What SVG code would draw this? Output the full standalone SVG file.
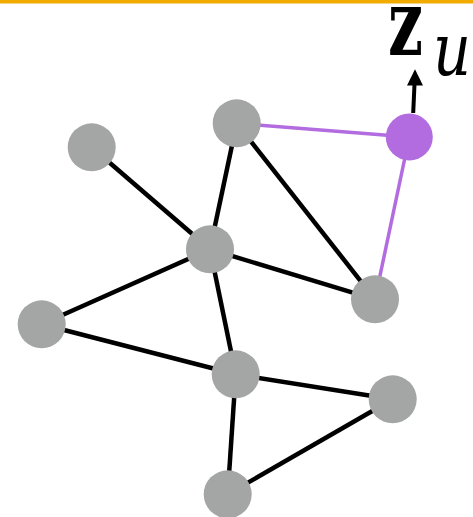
<svg xmlns="http://www.w3.org/2000/svg" width="473" height="517" viewBox="0 0 473 517">
<style>
.n{fill:#a3a6a5}
.p{fill:#b26ce0}
.e{stroke:#000;stroke-width:4.5;stroke-linecap:butt}
.pe{stroke:#b26ce0;stroke-width:3.5}
.lb{font-family:'DejaVu Serif',serif}
</style>
<rect width="473" height="517" fill="#fff"/>
<rect x="0" y="0" width="473" height="3.5" fill="#f0aa00"/>
<g id="edges">
<line class="e" x1="91.7" y1="147.3" x2="210" y2="249.3"/>
<line class="e" x1="236.7" y1="123.3" x2="210" y2="249.3"/>
<line class="e" x1="236.7" y1="123.3" x2="375" y2="299.3"/>
<line class="pe" x1="236.7" y1="123.3" x2="409.3" y2="137"/>
<line class="pe" x1="409.3" y1="137" x2="375" y2="299.3"/>
<line class="e" x1="210" y1="249.3" x2="375" y2="299.3"/>
<line class="e" x1="210" y1="249.3" x2="41.7" y2="324.3"/>
<line class="e" x1="210" y1="249.3" x2="235.7" y2="374.3"/>
<line class="e" x1="41.7" y1="324.3" x2="235.7" y2="374.3"/>
<line class="e" x1="235.7" y1="374.3" x2="392.7" y2="399.3"/>
<line class="e" x1="235.7" y1="374.3" x2="227.7" y2="494.3"/>
<line class="e" x1="392.7" y1="399.3" x2="227.7" y2="494.3"/>
<line stroke="#000" stroke-width="4" x1="413.2" y1="113" x2="414.6" y2="82"/>
<polygon points="415,69.3 423,85.5 407,85.5" fill="#000"/>
</g>
<g id="nA"><circle class="n" cx="91.7" cy="147.3" r="24"/></g>
<g id="nB"><circle class="n" cx="236.7" cy="123.3" r="24"/></g>
<g id="nC"><circle class="p" cx="409.3" cy="137" r="23.5"/></g>
<g id="nD"><circle class="n" cx="210" cy="249.3" r="24"/></g>
<g id="nE"><circle class="n" cx="375" cy="299.3" r="24"/></g>
<g id="nF"><circle class="n" cx="41.7" cy="324.3" r="24"/></g>
<g id="nG"><circle class="n" cx="235.7" cy="374.3" r="24"/></g>
<g id="nH"><circle class="n" cx="392.7" cy="399.3" r="24"/></g>
<g id="nI"><circle class="n" cx="227.7" cy="494.3" r="24"/></g>
<g id="label">
<text class="lb" x="388" y="55" font-weight="bold" font-size="92" textLength="35" lengthAdjust="spacingAndGlyphs">z</text>
<text class="lb" x="433" y="75" font-style="italic" font-size="72" textLength="38" lengthAdjust="spacingAndGlyphs">u</text>
</g>
</svg>
